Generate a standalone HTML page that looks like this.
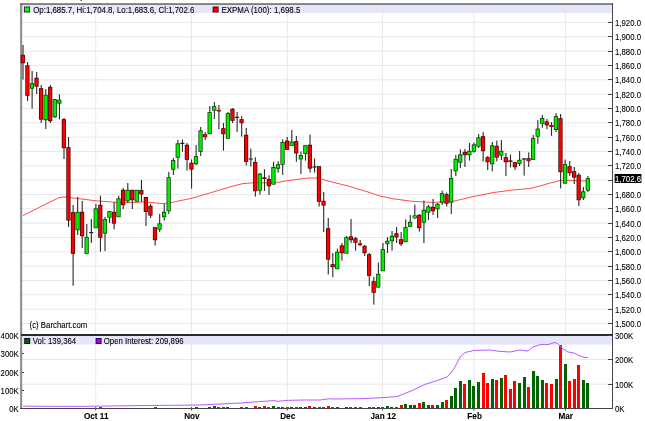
<!DOCTYPE html><html><head><meta charset="utf-8"><title>Chart</title><style>
html,body{margin:0;padding:0;background:#fff}svg{display:block}text{font-family:"Liberation Sans",Arial,sans-serif;font-size:9.5px;fill:#000;stroke:#000;stroke-width:0.1px}.b{font-weight:bold;font-size:9.5px;fill:#000}
</style></head><body>
<svg width="645" height="421" viewBox="0 0 645 421">
<rect width="645" height="421" fill="#fff"/>
<rect x="22" y="5" width="590" height="8" fill="#e6e6fa"/>
<rect x="22" y="336" width="590" height="8.6" fill="#e6e6fa"/>
<g stroke="#e8e8e8" stroke-width="1">
<line x1="22" x2="612" y1="323.5" y2="323.5"/>
<line x1="22" x2="612" y1="309.2" y2="309.2"/>
<line x1="22" x2="612" y1="294.8" y2="294.8"/>
<line x1="22" x2="612" y1="280.5" y2="280.5"/>
<line x1="22" x2="612" y1="266.1" y2="266.1"/>
<line x1="22" x2="612" y1="251.8" y2="251.8"/>
<line x1="22" x2="612" y1="237.5" y2="237.5"/>
<line x1="22" x2="612" y1="223.1" y2="223.1"/>
<line x1="22" x2="612" y1="208.8" y2="208.8"/>
<line x1="22" x2="612" y1="194.5" y2="194.5"/>
<line x1="22" x2="612" y1="180.1" y2="180.1"/>
<line x1="22" x2="612" y1="165.8" y2="165.8"/>
<line x1="22" x2="612" y1="151.5" y2="151.5"/>
<line x1="22" x2="612" y1="137.1" y2="137.1"/>
<line x1="22" x2="612" y1="122.8" y2="122.8"/>
<line x1="22" x2="612" y1="108.5" y2="108.5"/>
<line x1="22" x2="612" y1="94.1" y2="94.1"/>
<line x1="22" x2="612" y1="79.8" y2="79.8"/>
<line x1="22" x2="612" y1="65.5" y2="65.5"/>
<line x1="22" x2="612" y1="51.1" y2="51.1"/>
<line x1="22" x2="612" y1="36.8" y2="36.8"/>
<line x1="22" x2="612" y1="22.4" y2="22.4"/>
<line x1="22" x2="612" y1="359.4" y2="359.4"/>
<line x1="22" x2="612" y1="384.2" y2="384.2"/>
<line x1="95.7" x2="95.7" y1="5" y2="408"/>
<line x1="191.5" x2="191.5" y1="5" y2="408"/>
<line x1="287.3" x2="287.3" y1="5" y2="408"/>
<line x1="382.6" x2="382.6" y1="5" y2="408"/>
<line x1="474" x2="474" y1="5" y2="408"/>
<line x1="565.4" x2="565.4" y1="5" y2="408"/>
</g>
<rect x="20.1" y="3.3" width="2.1" height="405.7" fill="#8e8e8e"/>
<g shape-rendering="crispEdges">
<rect x="98.9" y="407.1" width="3" height="0.9" fill="#ff0000"/>
<rect x="153.5" y="407.1" width="3" height="0.9" fill="#ff0000"/>
<rect x="194.5" y="407.0" width="3" height="1.0" fill="#006400"/>
<rect x="208.2" y="407.0" width="3" height="1.0" fill="#006400"/>
<rect x="212.8" y="406.3" width="3" height="1.7" fill="#006400"/>
<rect x="217.3" y="407.0" width="3" height="1.0" fill="#ff0000"/>
<rect x="221.9" y="407.0" width="3" height="1.0" fill="#ff0000"/>
<rect x="226.4" y="407.0" width="3" height="1.0" fill="#006400"/>
<rect x="240.1" y="407.0" width="3" height="1.0" fill="#ff0000"/>
<rect x="244.6" y="407.0" width="3" height="1.0" fill="#ff0000"/>
<rect x="253.8" y="406.3" width="3" height="1.7" fill="#ff0000"/>
<rect x="258.3" y="407.0" width="3" height="1.0" fill="#006400"/>
<rect x="262.9" y="406.3" width="3" height="1.7" fill="#ff0000"/>
<rect x="267.4" y="407.0" width="3" height="1.0" fill="#ff0000"/>
<rect x="272.0" y="406.3" width="3" height="1.7" fill="#006400"/>
<rect x="276.5" y="407.0" width="3" height="1.0" fill="#006400"/>
<rect x="281.1" y="407.0" width="3" height="1.0" fill="#006400"/>
<rect x="285.6" y="407.0" width="3" height="1.0" fill="#ff0000"/>
<rect x="290.2" y="407.0" width="3" height="1.0" fill="#006400"/>
<rect x="294.8" y="407.0" width="3" height="1.0" fill="#ff0000"/>
<rect x="299.3" y="407.0" width="3" height="1.0" fill="#006400"/>
<rect x="303.9" y="407.0" width="3" height="1.0" fill="#006400"/>
<rect x="308.4" y="406.3" width="3" height="1.7" fill="#ff0000"/>
<rect x="313.0" y="407.0" width="3" height="1.0" fill="#006400"/>
<rect x="317.5" y="407.0" width="3" height="1.0" fill="#ff0000"/>
<rect x="322.1" y="407.0" width="3" height="1.0" fill="#ff0000"/>
<rect x="326.7" y="405.6" width="3" height="2.4" fill="#ff0000"/>
<rect x="331.2" y="406.6" width="3" height="1.4" fill="#ff0000"/>
<rect x="335.8" y="407.0" width="3" height="1.0" fill="#006400"/>
<rect x="344.9" y="407.0" width="3" height="1.0" fill="#006400"/>
<rect x="349.4" y="407.0" width="3" height="1.0" fill="#ff0000"/>
<rect x="354.0" y="407.0" width="3" height="1.0" fill="#ff0000"/>
<rect x="358.5" y="407.0" width="3" height="1.0" fill="#ff0000"/>
<rect x="367.7" y="407.0" width="3" height="1.0" fill="#ff0000"/>
<rect x="372.2" y="407.0" width="3" height="1.0" fill="#ff0000"/>
<rect x="376.8" y="407.0" width="3" height="1.0" fill="#006400"/>
<rect x="381.3" y="406.6" width="3" height="1.4" fill="#006400"/>
<rect x="385.9" y="405.8" width="3" height="2.2" fill="#006400"/>
<rect x="390.4" y="406.6" width="3" height="1.4" fill="#006400"/>
<rect x="395.0" y="406.6" width="3" height="1.4" fill="#ff0000"/>
<rect x="399.5" y="404.6" width="3" height="3.4" fill="#ff0000"/>
<rect x="404.1" y="403.6" width="3" height="4.4" fill="#006400"/>
<rect x="408.7" y="405.2" width="3" height="2.8" fill="#006400"/>
<rect x="413.2" y="404.6" width="3" height="3.4" fill="#006400"/>
<rect x="417.8" y="403.0" width="3" height="5.0" fill="#ff0000"/>
<rect x="422.3" y="401.6" width="3" height="6.4" fill="#006400"/>
<rect x="426.9" y="404.6" width="3" height="3.4" fill="#006400"/>
<rect x="431.4" y="404.6" width="3" height="3.4" fill="#ff0000"/>
<rect x="436.0" y="405.2" width="3" height="2.8" fill="#006400"/>
<rect x="440.6" y="402.2" width="3" height="5.8" fill="#006400"/>
<rect x="445.1" y="400.0" width="3" height="8.0" fill="#ff0000"/>
<rect x="449.7" y="395.6" width="3" height="12.4" fill="#006400"/>
<rect x="454.2" y="387.6" width="3" height="20.4" fill="#006400"/>
<rect x="458.8" y="381.0" width="3" height="27.0" fill="#006400"/>
<rect x="463.3" y="383.6" width="3" height="24.4" fill="#ff0000"/>
<rect x="467.9" y="379.6" width="3" height="28.4" fill="#006400"/>
<rect x="472.4" y="385.6" width="3" height="22.4" fill="#006400"/>
<rect x="477.0" y="381.6" width="3" height="26.4" fill="#006400"/>
<rect x="481.6" y="372.6" width="3" height="35.4" fill="#ff0000"/>
<rect x="486.1" y="383.0" width="3" height="25.0" fill="#ff0000"/>
<rect x="490.7" y="378.6" width="3" height="29.4" fill="#006400"/>
<rect x="495.2" y="380.0" width="3" height="28.0" fill="#ff0000"/>
<rect x="499.8" y="378.0" width="3" height="30.0" fill="#006400"/>
<rect x="504.3" y="375.0" width="3" height="33.0" fill="#ff0000"/>
<rect x="508.9" y="389.0" width="3" height="19.0" fill="#ff0000"/>
<rect x="513.4" y="380.6" width="3" height="27.4" fill="#ff0000"/>
<rect x="518.0" y="382.6" width="3" height="25.4" fill="#006400"/>
<rect x="522.6" y="377.2" width="3" height="30.8" fill="#006400"/>
<rect x="527.1" y="386.6" width="3" height="21.4" fill="#ff0000"/>
<rect x="531.7" y="370.6" width="3" height="37.4" fill="#006400"/>
<rect x="536.2" y="375.6" width="3" height="32.4" fill="#006400"/>
<rect x="540.8" y="380.2" width="3" height="27.8" fill="#006400"/>
<rect x="545.3" y="382.6" width="3" height="25.4" fill="#ff0000"/>
<rect x="549.9" y="384.0" width="3" height="24.0" fill="#ff0000"/>
<rect x="554.5" y="378.6" width="3" height="29.4" fill="#006400"/>
<rect x="559.0" y="344.8" width="3" height="63.2" fill="#ff0000"/>
<rect x="563.6" y="364.0" width="3" height="44.0" fill="#006400"/>
<rect x="568.1" y="381.0" width="3" height="27.0" fill="#ff0000"/>
<rect x="572.7" y="378.8" width="3" height="29.2" fill="#ff0000"/>
<rect x="577.2" y="364.6" width="3" height="43.4" fill="#ff0000"/>
<rect x="581.8" y="380.1" width="3" height="27.9" fill="#006400"/>
<rect x="586.3" y="382.6" width="3" height="25.4" fill="#006400"/>
</g>
<polyline fill="none" stroke="#b55cff" stroke-width="1" points="23.3,406.2 80,406.4 140,405.6 200,405 220,404 240,403 260,401.6 274,400.6 278,401.4 286,400.4 304,400 320,400 329,398.8 335,399 365,398.6 383,397.6 397,396.6 411,391 425,384.4 437,380.6 447,377 450,374 455,367 460,357 465,352.6 474,350.4 490,350 500,351.4 510,352 520,350 528,351 532,347.4 540,344.6 548,344.6 555,342.4 558,344 562,348 568,352 574,353 579,355.4 584,357.3 588,357.5"/>
<polyline fill="none" stroke="#ff4d4d" stroke-width="1" points="23,215.6 30,212 38,208 48,203 58,198 61,197.2 66,197 78,198.6 98,201 118,202.4 138,202.4 143,201.8 163,203.6 171,202.6 193,198 213,192 233,186 243,183.6 255,182.6 268,183 274,183 288,180.6 308,178 318,178 328,181 348,186 368,192 380,196 393,198.8 413,201.4 433,202.4 453,201.4 473,196.6 493,192.6 513,190 520,189.4 530,188.4 540,186 550,183 560,180.6 570,180.4 587,181"/>
<g>
<rect x="22.45" y="45.0" width="1.1" height="34.6" fill="#2a2a2a"/>
<rect x="20.75" y="54.8" width="4.2" height="8.4" fill="#4a0000"/>
<rect x="21.50" y="55.5" width="2.7" height="6.9" fill="#ff0000"/>
<rect x="27.01" y="62.0" width="1.1" height="39.0" fill="#2a2a2a"/>
<rect x="25.31" y="65.4" width="4.2" height="30.4" fill="#4a0000"/>
<rect x="26.06" y="66.1" width="2.7" height="28.9" fill="#ff0000"/>
<rect x="31.56" y="71.0" width="1.1" height="37.6" fill="#2a2a2a"/>
<rect x="29.86" y="83.2" width="4.2" height="5.4" fill="#003c00"/>
<rect x="30.61" y="84.0" width="2.7" height="3.9" fill="#00f000"/>
<rect x="36.12" y="72.0" width="1.1" height="22.0" fill="#2a2a2a"/>
<rect x="34.42" y="77.8" width="4.2" height="8.8" fill="#4a0000"/>
<rect x="35.17" y="78.5" width="2.7" height="7.3" fill="#ff0000"/>
<rect x="40.67" y="85.0" width="1.1" height="38.0" fill="#2a2a2a"/>
<rect x="38.97" y="88.2" width="4.2" height="31.4" fill="#4a0000"/>
<rect x="39.72" y="89.0" width="2.7" height="29.9" fill="#ff0000"/>
<rect x="45.23" y="89.0" width="1.1" height="40.0" fill="#2a2a2a"/>
<rect x="43.53" y="94.8" width="4.2" height="25.4" fill="#003c00"/>
<rect x="44.28" y="95.5" width="2.7" height="23.9" fill="#00f000"/>
<rect x="49.79" y="85.0" width="1.1" height="38.0" fill="#2a2a2a"/>
<rect x="48.09" y="86.8" width="4.2" height="34.4" fill="#4a0000"/>
<rect x="48.84" y="87.5" width="2.7" height="32.9" fill="#ff0000"/>
<rect x="54.34" y="99.0" width="1.1" height="19.0" fill="#2a2a2a"/>
<rect x="52.64" y="99.2" width="4.2" height="18.0" fill="#003c00"/>
<rect x="53.39" y="100.0" width="2.7" height="16.5" fill="#00f000"/>
<rect x="58.90" y="94.4" width="1.1" height="25.0" fill="#2a2a2a"/>
<rect x="57.20" y="99.8" width="4.2" height="3.8" fill="#003c00"/>
<rect x="57.95" y="100.5" width="2.7" height="2.3" fill="#00f000"/>
<rect x="63.45" y="118.0" width="1.1" height="41.0" fill="#2a2a2a"/>
<rect x="61.75" y="119.2" width="4.2" height="29.0" fill="#4a0000"/>
<rect x="62.50" y="120.0" width="2.7" height="27.5" fill="#ff0000"/>
<rect x="68.01" y="137.0" width="1.1" height="90.0" fill="#2a2a2a"/>
<rect x="66.31" y="147.2" width="4.2" height="73.4" fill="#4a0000"/>
<rect x="67.06" y="148.0" width="2.7" height="71.9" fill="#ff0000"/>
<rect x="72.57" y="205.0" width="1.1" height="80.6" fill="#2a2a2a"/>
<rect x="70.87" y="212.2" width="4.2" height="41.6" fill="#4a0000"/>
<rect x="71.62" y="213.0" width="2.7" height="40.1" fill="#ff0000"/>
<rect x="77.12" y="197.0" width="1.1" height="38.0" fill="#2a2a2a"/>
<rect x="75.42" y="211.8" width="4.2" height="18.4" fill="#003c00"/>
<rect x="76.17" y="212.6" width="2.7" height="16.9" fill="#00f000"/>
<rect x="81.68" y="201.0" width="1.1" height="47.0" fill="#2a2a2a"/>
<rect x="79.98" y="211.8" width="4.2" height="24.4" fill="#4a0000"/>
<rect x="80.73" y="212.6" width="2.7" height="22.9" fill="#ff0000"/>
<rect x="86.23" y="224.0" width="1.1" height="29.6" fill="#2a2a2a"/>
<rect x="84.53" y="236.8" width="4.2" height="17.0" fill="#003c00"/>
<rect x="85.28" y="237.6" width="2.7" height="15.5" fill="#00f000"/>
<rect x="90.79" y="219.0" width="1.1" height="24.0" fill="#2a2a2a"/>
<rect x="89.09" y="232.0" width="4.2" height="1.2" fill="#1a2a1a"/>
<rect x="95.35" y="204.0" width="1.1" height="24.0" fill="#2a2a2a"/>
<rect x="93.65" y="208.4" width="4.2" height="19.8" fill="#003c00"/>
<rect x="94.40" y="209.2" width="2.7" height="18.3" fill="#00f000"/>
<rect x="99.90" y="195.6" width="1.1" height="56.0" fill="#2a2a2a"/>
<rect x="98.20" y="204.8" width="4.2" height="33.0" fill="#4a0000"/>
<rect x="98.95" y="205.6" width="2.7" height="31.5" fill="#ff0000"/>
<rect x="104.46" y="217.0" width="1.1" height="34.0" fill="#2a2a2a"/>
<rect x="102.76" y="219.2" width="4.2" height="14.4" fill="#003c00"/>
<rect x="103.51" y="220.0" width="2.7" height="12.9" fill="#00f000"/>
<rect x="109.01" y="211.4" width="1.1" height="11.6" fill="#2a2a2a"/>
<rect x="107.31" y="211.2" width="4.2" height="6.4" fill="#003c00"/>
<rect x="108.06" y="212.0" width="2.7" height="4.9" fill="#00f000"/>
<rect x="113.57" y="202.0" width="1.1" height="27.4" fill="#2a2a2a"/>
<rect x="111.87" y="211.8" width="4.2" height="11.8" fill="#4a0000"/>
<rect x="112.62" y="212.6" width="2.7" height="10.3" fill="#ff0000"/>
<rect x="118.13" y="195.7" width="1.1" height="21.3" fill="#2a2a2a"/>
<rect x="116.43" y="198.4" width="4.2" height="18.8" fill="#003c00"/>
<rect x="117.18" y="199.2" width="2.7" height="17.3" fill="#00f000"/>
<rect x="122.68" y="188.0" width="1.1" height="21.0" fill="#2a2a2a"/>
<rect x="120.98" y="189.8" width="4.2" height="15.4" fill="#4a0000"/>
<rect x="121.73" y="190.6" width="2.7" height="13.9" fill="#ff0000"/>
<rect x="127.24" y="183.0" width="1.1" height="20.0" fill="#2a2a2a"/>
<rect x="125.54" y="189.8" width="4.2" height="11.4" fill="#003c00"/>
<rect x="126.29" y="190.6" width="2.7" height="9.9" fill="#00f000"/>
<rect x="131.79" y="190.0" width="1.1" height="19.0" fill="#2a2a2a"/>
<rect x="130.09" y="189.8" width="4.2" height="10.4" fill="#4a0000"/>
<rect x="130.84" y="190.6" width="2.7" height="8.9" fill="#ff0000"/>
<rect x="136.35" y="190.0" width="1.1" height="11.4" fill="#2a2a2a"/>
<rect x="134.65" y="189.8" width="4.2" height="11.8" fill="#003c00"/>
<rect x="135.40" y="190.6" width="2.7" height="10.3" fill="#00f000"/>
<rect x="140.91" y="180.0" width="1.1" height="21.7" fill="#2a2a2a"/>
<rect x="139.21" y="190.1" width="4.2" height="4.3" fill="#4a0000"/>
<rect x="139.96" y="190.9" width="2.7" height="2.8" fill="#ff0000"/>
<rect x="145.46" y="197.2" width="1.1" height="28.8" fill="#2a2a2a"/>
<rect x="143.76" y="197.0" width="4.2" height="15.0" fill="#4a0000"/>
<rect x="144.51" y="197.8" width="2.7" height="13.5" fill="#ff0000"/>
<rect x="150.02" y="204.0" width="1.1" height="14.0" fill="#2a2a2a"/>
<rect x="148.32" y="205.8" width="4.2" height="9.8" fill="#4a0000"/>
<rect x="149.07" y="206.6" width="2.7" height="8.3" fill="#ff0000"/>
<rect x="154.57" y="227.4" width="1.1" height="18.2" fill="#2a2a2a"/>
<rect x="152.87" y="227.2" width="4.2" height="13.0" fill="#4a0000"/>
<rect x="153.62" y="228.0" width="2.7" height="11.5" fill="#ff0000"/>
<rect x="159.13" y="214.0" width="1.1" height="18.0" fill="#2a2a2a"/>
<rect x="157.43" y="223.4" width="4.2" height="6.2" fill="#003c00"/>
<rect x="158.18" y="224.2" width="2.7" height="4.7" fill="#00f000"/>
<rect x="163.69" y="204.0" width="1.1" height="16.6" fill="#2a2a2a"/>
<rect x="161.99" y="211.8" width="4.2" height="5.4" fill="#003c00"/>
<rect x="162.74" y="212.6" width="2.7" height="3.9" fill="#00f000"/>
<rect x="168.24" y="172.0" width="1.1" height="42.0" fill="#2a2a2a"/>
<rect x="166.54" y="177.2" width="4.2" height="34.0" fill="#003c00"/>
<rect x="167.29" y="178.0" width="2.7" height="32.5" fill="#00f000"/>
<rect x="172.80" y="158.0" width="1.1" height="17.0" fill="#2a2a2a"/>
<rect x="171.10" y="160.2" width="4.2" height="9.4" fill="#003c00"/>
<rect x="171.85" y="161.0" width="2.7" height="7.9" fill="#00f000"/>
<rect x="177.35" y="140.0" width="1.1" height="28.6" fill="#2a2a2a"/>
<rect x="175.65" y="143.4" width="4.2" height="14.2" fill="#003c00"/>
<rect x="176.40" y="144.2" width="2.7" height="12.7" fill="#00f000"/>
<rect x="181.91" y="139.4" width="1.1" height="12.2" fill="#2a2a2a"/>
<rect x="180.21" y="142.8" width="4.2" height="1.2" fill="#1a2a1a"/>
<rect x="186.47" y="143.0" width="1.1" height="27.6" fill="#2a2a2a"/>
<rect x="184.77" y="144.8" width="4.2" height="15.0" fill="#4a0000"/>
<rect x="185.52" y="145.6" width="2.7" height="13.5" fill="#ff0000"/>
<rect x="191.02" y="159.4" width="1.1" height="29.2" fill="#2a2a2a"/>
<rect x="189.32" y="162.8" width="4.2" height="6.8" fill="#4a0000"/>
<rect x="190.07" y="163.6" width="2.7" height="5.3" fill="#ff0000"/>
<rect x="195.58" y="145.0" width="1.1" height="20.0" fill="#2a2a2a"/>
<rect x="193.88" y="156.2" width="4.2" height="8.0" fill="#003c00"/>
<rect x="194.63" y="157.0" width="2.7" height="6.5" fill="#00f000"/>
<rect x="200.13" y="127.0" width="1.1" height="29.0" fill="#2a2a2a"/>
<rect x="198.43" y="130.4" width="4.2" height="21.4" fill="#003c00"/>
<rect x="199.18" y="131.2" width="2.7" height="19.9" fill="#00f000"/>
<rect x="204.69" y="132.0" width="1.1" height="8.0" fill="#2a2a2a"/>
<rect x="202.99" y="134.2" width="4.2" height="3.0" fill="#4a0000"/>
<rect x="203.74" y="134.6" width="2.7" height="2.3" fill="#ff0000"/>
<rect x="209.25" y="106.0" width="1.1" height="28.0" fill="#2a2a2a"/>
<rect x="207.55" y="112.2" width="4.2" height="22.0" fill="#003c00"/>
<rect x="208.30" y="113.0" width="2.7" height="20.5" fill="#00f000"/>
<rect x="213.80" y="102.0" width="1.1" height="17.0" fill="#2a2a2a"/>
<rect x="212.10" y="106.2" width="4.2" height="4.4" fill="#003c00"/>
<rect x="212.85" y="107.0" width="2.7" height="2.9" fill="#00f000"/>
<rect x="218.36" y="105.0" width="1.1" height="24.4" fill="#2a2a2a"/>
<rect x="216.66" y="109.8" width="4.2" height="1.6" fill="#4a0000"/>
<rect x="217.41" y="110.1" width="2.7" height="0.9" fill="#ff0000"/>
<rect x="222.91" y="123.0" width="1.1" height="27.6" fill="#2a2a2a"/>
<rect x="221.21" y="128.2" width="4.2" height="6.0" fill="#4a0000"/>
<rect x="221.96" y="129.0" width="2.7" height="4.5" fill="#ff0000"/>
<rect x="227.47" y="112.0" width="1.1" height="26.4" fill="#2a2a2a"/>
<rect x="225.77" y="113.2" width="4.2" height="25.4" fill="#003c00"/>
<rect x="226.52" y="114.0" width="2.7" height="23.9" fill="#00f000"/>
<rect x="232.03" y="108.0" width="1.1" height="15.0" fill="#2a2a2a"/>
<rect x="230.33" y="108.8" width="4.2" height="12.0" fill="#4a0000"/>
<rect x="231.08" y="109.5" width="2.7" height="10.5" fill="#ff0000"/>
<rect x="236.58" y="112.0" width="1.1" height="20.0" fill="#2a2a2a"/>
<rect x="234.88" y="116.8" width="4.2" height="1.2" fill="#1a2a1a"/>
<rect x="241.14" y="116.0" width="1.1" height="20.6" fill="#2a2a2a"/>
<rect x="239.44" y="119.2" width="4.2" height="4.0" fill="#4a0000"/>
<rect x="240.19" y="120.0" width="2.7" height="2.5" fill="#ff0000"/>
<rect x="245.69" y="128.0" width="1.1" height="37.6" fill="#2a2a2a"/>
<rect x="243.99" y="134.8" width="4.2" height="27.0" fill="#4a0000"/>
<rect x="244.74" y="135.6" width="2.7" height="25.5" fill="#ff0000"/>
<rect x="250.25" y="148.6" width="1.1" height="18.0" fill="#2a2a2a"/>
<rect x="248.55" y="158.4" width="4.2" height="1.2" fill="#1a2a1a"/>
<rect x="254.81" y="157.3" width="1.1" height="39.3" fill="#2a2a2a"/>
<rect x="253.11" y="162.0" width="4.2" height="29.2" fill="#4a0000"/>
<rect x="253.86" y="162.8" width="2.7" height="27.7" fill="#ff0000"/>
<rect x="259.36" y="173.0" width="1.1" height="21.6" fill="#2a2a2a"/>
<rect x="257.66" y="173.6" width="4.2" height="17.0" fill="#003c00"/>
<rect x="258.41" y="174.4" width="2.7" height="15.5" fill="#00f000"/>
<rect x="263.92" y="169.2" width="1.1" height="21.8" fill="#2a2a2a"/>
<rect x="262.22" y="177.3" width="4.2" height="1.7" fill="#4a0000"/>
<rect x="262.97" y="177.7" width="2.7" height="1.0" fill="#ff0000"/>
<rect x="268.47" y="175.3" width="1.1" height="19.7" fill="#2a2a2a"/>
<rect x="266.77" y="179.1" width="4.2" height="7.1" fill="#4a0000"/>
<rect x="267.52" y="179.9" width="2.7" height="5.6" fill="#ff0000"/>
<rect x="273.03" y="161.7" width="1.1" height="22.7" fill="#2a2a2a"/>
<rect x="271.33" y="167.0" width="4.2" height="17.6" fill="#003c00"/>
<rect x="272.08" y="167.8" width="2.7" height="16.1" fill="#00f000"/>
<rect x="277.59" y="161.2" width="1.1" height="11.6" fill="#2a2a2a"/>
<rect x="275.89" y="164.3" width="4.2" height="4.4" fill="#003c00"/>
<rect x="276.64" y="165.1" width="2.7" height="2.9" fill="#00f000"/>
<rect x="282.14" y="139.4" width="1.1" height="35.4" fill="#2a2a2a"/>
<rect x="280.44" y="142.0" width="4.2" height="22.7" fill="#003c00"/>
<rect x="281.19" y="142.8" width="2.7" height="21.2" fill="#00f000"/>
<rect x="286.70" y="137.0" width="1.1" height="12.6" fill="#2a2a2a"/>
<rect x="285.00" y="140.6" width="4.2" height="9.2" fill="#4a0000"/>
<rect x="285.75" y="141.4" width="2.7" height="7.7" fill="#ff0000"/>
<rect x="291.25" y="130.0" width="1.1" height="15.6" fill="#2a2a2a"/>
<rect x="289.55" y="141.6" width="4.2" height="4.2" fill="#003c00"/>
<rect x="290.30" y="142.4" width="2.7" height="2.7" fill="#00f000"/>
<rect x="295.81" y="136.0" width="1.1" height="25.8" fill="#2a2a2a"/>
<rect x="294.11" y="141.1" width="4.2" height="12.3" fill="#4a0000"/>
<rect x="294.86" y="141.9" width="2.7" height="10.8" fill="#ff0000"/>
<rect x="300.37" y="151.6" width="1.1" height="22.4" fill="#2a2a2a"/>
<rect x="298.67" y="155.1" width="4.2" height="4.3" fill="#003c00"/>
<rect x="299.42" y="155.9" width="2.7" height="2.8" fill="#00f000"/>
<rect x="304.92" y="145.0" width="1.1" height="15.6" fill="#2a2a2a"/>
<rect x="303.22" y="145.3" width="4.2" height="8.5" fill="#003c00"/>
<rect x="303.97" y="146.1" width="2.7" height="7.0" fill="#00f000"/>
<rect x="309.48" y="134.6" width="1.1" height="38.0" fill="#2a2a2a"/>
<rect x="307.78" y="144.8" width="4.2" height="23.8" fill="#4a0000"/>
<rect x="308.53" y="145.6" width="2.7" height="22.3" fill="#ff0000"/>
<rect x="314.03" y="158.6" width="1.1" height="14.0" fill="#2a2a2a"/>
<rect x="312.33" y="166.4" width="4.2" height="1.2" fill="#1a2a1a"/>
<rect x="318.59" y="166.4" width="1.1" height="40.2" fill="#2a2a2a"/>
<rect x="316.89" y="166.2" width="4.2" height="35.6" fill="#4a0000"/>
<rect x="317.64" y="167.0" width="2.7" height="34.1" fill="#ff0000"/>
<rect x="323.15" y="192.0" width="1.1" height="40.0" fill="#2a2a2a"/>
<rect x="321.45" y="200.8" width="4.2" height="4.8" fill="#4a0000"/>
<rect x="322.20" y="201.6" width="2.7" height="3.3" fill="#ff0000"/>
<rect x="327.70" y="218.0" width="1.1" height="56.4" fill="#2a2a2a"/>
<rect x="326.00" y="228.2" width="4.2" height="31.4" fill="#4a0000"/>
<rect x="326.75" y="229.0" width="2.7" height="29.9" fill="#ff0000"/>
<rect x="332.26" y="253.0" width="1.1" height="24.2" fill="#2a2a2a"/>
<rect x="330.56" y="264.2" width="4.2" height="3.0" fill="#4a0000"/>
<rect x="331.31" y="264.9" width="2.7" height="1.5" fill="#ff0000"/>
<rect x="336.81" y="248.6" width="1.1" height="20.4" fill="#2a2a2a"/>
<rect x="335.11" y="251.8" width="4.2" height="17.4" fill="#003c00"/>
<rect x="335.86" y="252.6" width="2.7" height="15.9" fill="#00f000"/>
<rect x="341.37" y="243.0" width="1.1" height="17.6" fill="#2a2a2a"/>
<rect x="339.67" y="245.4" width="4.2" height="7.8" fill="#4a0000"/>
<rect x="340.42" y="246.2" width="2.7" height="6.3" fill="#ff0000"/>
<rect x="345.93" y="236.0" width="1.1" height="17.4" fill="#2a2a2a"/>
<rect x="344.23" y="237.2" width="4.2" height="16.4" fill="#003c00"/>
<rect x="344.98" y="238.0" width="2.7" height="14.9" fill="#00f000"/>
<rect x="350.48" y="219.0" width="1.1" height="24.0" fill="#2a2a2a"/>
<rect x="348.78" y="236.4" width="4.2" height="3.8" fill="#4a0000"/>
<rect x="349.53" y="237.2" width="2.7" height="2.3" fill="#ff0000"/>
<rect x="355.04" y="237.0" width="1.1" height="13.6" fill="#2a2a2a"/>
<rect x="353.34" y="238.2" width="4.2" height="4.6" fill="#4a0000"/>
<rect x="354.09" y="239.0" width="2.7" height="3.1" fill="#ff0000"/>
<rect x="359.59" y="240.0" width="1.1" height="6.0" fill="#2a2a2a"/>
<rect x="357.89" y="243.4" width="4.2" height="1.8" fill="#4a0000"/>
<rect x="358.64" y="243.8" width="2.7" height="1.1" fill="#ff0000"/>
<rect x="364.15" y="245.0" width="1.1" height="11.0" fill="#2a2a2a"/>
<rect x="362.45" y="245.8" width="4.2" height="7.4" fill="#4a0000"/>
<rect x="363.20" y="246.6" width="2.7" height="5.9" fill="#ff0000"/>
<rect x="368.71" y="253.0" width="1.1" height="33.0" fill="#2a2a2a"/>
<rect x="367.01" y="254.2" width="4.2" height="21.6" fill="#4a0000"/>
<rect x="367.76" y="255.0" width="2.7" height="20.1" fill="#ff0000"/>
<rect x="373.26" y="277.0" width="1.1" height="27.6" fill="#2a2a2a"/>
<rect x="371.56" y="281.2" width="4.2" height="11.6" fill="#4a0000"/>
<rect x="372.31" y="281.9" width="2.7" height="10.1" fill="#ff0000"/>
<rect x="377.82" y="262.6" width="1.1" height="24.8" fill="#2a2a2a"/>
<rect x="376.12" y="273.8" width="4.2" height="13.8" fill="#003c00"/>
<rect x="376.87" y="274.6" width="2.7" height="12.3" fill="#00f000"/>
<rect x="382.37" y="243.0" width="1.1" height="28.0" fill="#2a2a2a"/>
<rect x="380.67" y="249.2" width="4.2" height="22.0" fill="#003c00"/>
<rect x="381.42" y="250.0" width="2.7" height="20.5" fill="#00f000"/>
<rect x="386.93" y="237.0" width="1.1" height="16.0" fill="#2a2a2a"/>
<rect x="385.23" y="240.8" width="4.2" height="3.4" fill="#003c00"/>
<rect x="385.98" y="241.6" width="2.7" height="1.9" fill="#00f000"/>
<rect x="391.49" y="231.0" width="1.1" height="19.6" fill="#2a2a2a"/>
<rect x="389.79" y="235.8" width="4.2" height="5.4" fill="#003c00"/>
<rect x="390.54" y="236.6" width="2.7" height="3.9" fill="#00f000"/>
<rect x="396.04" y="227.0" width="1.1" height="16.0" fill="#2a2a2a"/>
<rect x="394.34" y="233.2" width="4.2" height="4.2" fill="#4a0000"/>
<rect x="395.09" y="234.0" width="2.7" height="2.7" fill="#ff0000"/>
<rect x="400.60" y="232.0" width="1.1" height="14.0" fill="#2a2a2a"/>
<rect x="398.90" y="239.2" width="4.2" height="5.0" fill="#4a0000"/>
<rect x="399.65" y="240.0" width="2.7" height="3.5" fill="#ff0000"/>
<rect x="405.15" y="219.4" width="1.1" height="22.6" fill="#2a2a2a"/>
<rect x="403.45" y="227.2" width="4.2" height="15.0" fill="#003c00"/>
<rect x="404.20" y="228.0" width="2.7" height="13.5" fill="#00f000"/>
<rect x="409.71" y="215.0" width="1.1" height="11.6" fill="#2a2a2a"/>
<rect x="408.01" y="221.8" width="4.2" height="5.0" fill="#003c00"/>
<rect x="408.76" y="222.6" width="2.7" height="3.5" fill="#00f000"/>
<rect x="414.27" y="204.6" width="1.1" height="14.4" fill="#2a2a2a"/>
<rect x="412.57" y="215.4" width="4.2" height="2.8" fill="#003c00"/>
<rect x="413.32" y="215.8" width="2.7" height="2.1" fill="#00f000"/>
<rect x="418.82" y="214.0" width="1.1" height="17.6" fill="#2a2a2a"/>
<rect x="417.12" y="214.8" width="4.2" height="13.4" fill="#4a0000"/>
<rect x="417.87" y="215.6" width="2.7" height="11.9" fill="#ff0000"/>
<rect x="423.38" y="200.6" width="1.1" height="42.4" fill="#2a2a2a"/>
<rect x="421.68" y="209.8" width="4.2" height="12.8" fill="#003c00"/>
<rect x="422.43" y="210.6" width="2.7" height="11.3" fill="#00f000"/>
<rect x="427.93" y="205.0" width="1.1" height="15.0" fill="#2a2a2a"/>
<rect x="426.23" y="206.4" width="4.2" height="6.2" fill="#003c00"/>
<rect x="426.98" y="207.2" width="2.7" height="4.7" fill="#00f000"/>
<rect x="432.49" y="199.0" width="1.1" height="16.0" fill="#2a2a2a"/>
<rect x="430.79" y="206.8" width="4.2" height="4.4" fill="#4a0000"/>
<rect x="431.54" y="207.6" width="2.7" height="2.9" fill="#ff0000"/>
<rect x="437.05" y="203.0" width="1.1" height="15.0" fill="#2a2a2a"/>
<rect x="435.35" y="203.8" width="4.2" height="5.4" fill="#003c00"/>
<rect x="436.10" y="204.6" width="2.7" height="3.9" fill="#00f000"/>
<rect x="441.60" y="190.6" width="1.1" height="14.4" fill="#2a2a2a"/>
<rect x="439.90" y="193.2" width="4.2" height="9.4" fill="#003c00"/>
<rect x="440.65" y="194.0" width="2.7" height="7.9" fill="#00f000"/>
<rect x="446.16" y="192.6" width="1.1" height="14.0" fill="#2a2a2a"/>
<rect x="444.46" y="194.2" width="4.2" height="9.6" fill="#4a0000"/>
<rect x="445.21" y="195.0" width="2.7" height="8.1" fill="#ff0000"/>
<rect x="450.71" y="169.0" width="1.1" height="45.0" fill="#2a2a2a"/>
<rect x="449.01" y="178.0" width="4.2" height="24.6" fill="#003c00"/>
<rect x="449.76" y="178.8" width="2.7" height="23.1" fill="#00f000"/>
<rect x="455.27" y="155.0" width="1.1" height="21.0" fill="#2a2a2a"/>
<rect x="453.57" y="158.8" width="4.2" height="12.4" fill="#003c00"/>
<rect x="454.32" y="159.6" width="2.7" height="10.9" fill="#00f000"/>
<rect x="459.83" y="149.4" width="1.1" height="18.6" fill="#2a2a2a"/>
<rect x="458.13" y="154.4" width="4.2" height="8.2" fill="#003c00"/>
<rect x="458.88" y="155.2" width="2.7" height="6.7" fill="#00f000"/>
<rect x="464.38" y="149.0" width="1.1" height="18.0" fill="#2a2a2a"/>
<rect x="462.68" y="151.8" width="4.2" height="3.4" fill="#4a0000"/>
<rect x="463.43" y="152.6" width="2.7" height="1.9" fill="#ff0000"/>
<rect x="468.94" y="143.0" width="1.1" height="17.6" fill="#2a2a2a"/>
<rect x="467.24" y="150.8" width="4.2" height="4.4" fill="#003c00"/>
<rect x="467.99" y="151.6" width="2.7" height="2.9" fill="#00f000"/>
<rect x="473.49" y="142.6" width="1.1" height="10.0" fill="#2a2a2a"/>
<rect x="471.79" y="144.4" width="4.2" height="7.2" fill="#003c00"/>
<rect x="472.54" y="145.2" width="2.7" height="5.7" fill="#00f000"/>
<rect x="478.05" y="134.0" width="1.1" height="14.0" fill="#2a2a2a"/>
<rect x="476.35" y="137.4" width="4.2" height="9.2" fill="#003c00"/>
<rect x="477.10" y="138.2" width="2.7" height="7.7" fill="#00f000"/>
<rect x="482.61" y="132.0" width="1.1" height="29.4" fill="#2a2a2a"/>
<rect x="480.91" y="136.2" width="4.2" height="15.0" fill="#4a0000"/>
<rect x="481.66" y="137.0" width="2.7" height="13.5" fill="#ff0000"/>
<rect x="487.16" y="156.0" width="1.1" height="14.0" fill="#2a2a2a"/>
<rect x="485.46" y="157.2" width="4.2" height="5.0" fill="#4a0000"/>
<rect x="486.21" y="158.0" width="2.7" height="3.5" fill="#ff0000"/>
<rect x="491.72" y="142.0" width="1.1" height="29.4" fill="#2a2a2a"/>
<rect x="490.02" y="145.4" width="4.2" height="18.8" fill="#003c00"/>
<rect x="490.77" y="146.2" width="2.7" height="17.3" fill="#00f000"/>
<rect x="496.27" y="140.6" width="1.1" height="20.8" fill="#2a2a2a"/>
<rect x="494.57" y="145.8" width="4.2" height="11.8" fill="#4a0000"/>
<rect x="495.32" y="146.6" width="2.7" height="10.3" fill="#ff0000"/>
<rect x="500.83" y="140.0" width="1.1" height="20.0" fill="#2a2a2a"/>
<rect x="499.13" y="150.8" width="4.2" height="4.8" fill="#003c00"/>
<rect x="499.88" y="151.6" width="2.7" height="3.3" fill="#00f000"/>
<rect x="505.39" y="153.0" width="1.1" height="23.0" fill="#2a2a2a"/>
<rect x="503.69" y="157.2" width="4.2" height="5.0" fill="#4a0000"/>
<rect x="504.44" y="158.0" width="2.7" height="3.5" fill="#ff0000"/>
<rect x="509.94" y="154.6" width="1.1" height="12.8" fill="#2a2a2a"/>
<rect x="508.24" y="160.4" width="4.2" height="1.6" fill="#4a0000"/>
<rect x="508.99" y="160.8" width="2.7" height="0.9" fill="#ff0000"/>
<rect x="514.50" y="162.0" width="1.1" height="8.0" fill="#2a2a2a"/>
<rect x="512.80" y="162.2" width="4.2" height="5.0" fill="#4a0000"/>
<rect x="513.55" y="163.0" width="2.7" height="3.5" fill="#ff0000"/>
<rect x="519.05" y="151.0" width="1.1" height="15.0" fill="#2a2a2a"/>
<rect x="517.35" y="159.8" width="4.2" height="4.0" fill="#003c00"/>
<rect x="518.10" y="160.6" width="2.7" height="2.5" fill="#00f000"/>
<rect x="523.61" y="158.0" width="1.1" height="17.6" fill="#2a2a2a"/>
<rect x="521.91" y="158.4" width="4.2" height="1.2" fill="#1a2a1a"/>
<rect x="528.17" y="152.4" width="1.1" height="14.6" fill="#2a2a2a"/>
<rect x="526.47" y="158.2" width="4.2" height="3.0" fill="#4a0000"/>
<rect x="527.22" y="158.6" width="2.7" height="2.3" fill="#ff0000"/>
<rect x="532.72" y="135.0" width="1.1" height="24.6" fill="#2a2a2a"/>
<rect x="531.02" y="138.2" width="4.2" height="21.6" fill="#003c00"/>
<rect x="531.77" y="139.0" width="2.7" height="20.1" fill="#00f000"/>
<rect x="537.28" y="120.1" width="1.1" height="23.7" fill="#2a2a2a"/>
<rect x="535.58" y="128.6" width="4.2" height="8.0" fill="#003c00"/>
<rect x="536.33" y="129.4" width="2.7" height="6.5" fill="#00f000"/>
<rect x="541.83" y="115.1" width="1.1" height="12.7" fill="#2a2a2a"/>
<rect x="540.13" y="118.0" width="4.2" height="5.7" fill="#003c00"/>
<rect x="540.88" y="118.8" width="2.7" height="4.2" fill="#00f000"/>
<rect x="546.39" y="119.1" width="1.1" height="10.1" fill="#2a2a2a"/>
<rect x="544.69" y="121.4" width="4.2" height="3.9" fill="#4a0000"/>
<rect x="545.44" y="122.1" width="2.7" height="2.4" fill="#ff0000"/>
<rect x="550.95" y="122.1" width="1.1" height="13.7" fill="#2a2a2a"/>
<rect x="549.25" y="125.0" width="4.2" height="1.9" fill="#4a0000"/>
<rect x="550.00" y="125.3" width="2.7" height="1.2" fill="#ff0000"/>
<rect x="555.50" y="113.1" width="1.1" height="19.0" fill="#2a2a2a"/>
<rect x="553.80" y="116.2" width="4.2" height="13.8" fill="#003c00"/>
<rect x="554.55" y="117.0" width="2.7" height="12.3" fill="#00f000"/>
<rect x="560.06" y="114.0" width="1.1" height="74.4" fill="#2a2a2a"/>
<rect x="558.36" y="118.2" width="4.2" height="54.0" fill="#4a0000"/>
<rect x="559.11" y="119.0" width="2.7" height="52.5" fill="#ff0000"/>
<rect x="564.61" y="159.6" width="1.1" height="23.8" fill="#2a2a2a"/>
<rect x="562.91" y="164.2" width="4.2" height="19.4" fill="#003c00"/>
<rect x="563.66" y="165.0" width="2.7" height="17.9" fill="#00f000"/>
<rect x="569.17" y="161.0" width="1.1" height="15.0" fill="#2a2a2a"/>
<rect x="567.47" y="166.2" width="4.2" height="7.0" fill="#4a0000"/>
<rect x="568.22" y="167.0" width="2.7" height="5.5" fill="#ff0000"/>
<rect x="573.73" y="167.0" width="1.1" height="17.0" fill="#2a2a2a"/>
<rect x="572.03" y="171.2" width="4.2" height="6.4" fill="#4a0000"/>
<rect x="572.78" y="172.0" width="2.7" height="4.9" fill="#ff0000"/>
<rect x="578.28" y="173.0" width="1.1" height="33.0" fill="#2a2a2a"/>
<rect x="576.58" y="174.8" width="4.2" height="25.4" fill="#4a0000"/>
<rect x="577.33" y="175.6" width="2.7" height="23.9" fill="#ff0000"/>
<rect x="582.84" y="187.0" width="1.1" height="13.0" fill="#2a2a2a"/>
<rect x="581.14" y="191.4" width="4.2" height="6.8" fill="#003c00"/>
<rect x="581.89" y="192.2" width="2.7" height="5.3" fill="#00f000"/>
<rect x="587.39" y="176.0" width="1.1" height="16.0" fill="#2a2a2a"/>
<rect x="585.69" y="178.2" width="4.2" height="12.4" fill="#003c00"/>
<rect x="586.44" y="179.0" width="2.7" height="10.9" fill="#00f000"/>
</g>
<g shape-rendering="crispEdges">
<rect x="20" y="3.3" width="593" height="1.5" fill="#606060" shape-rendering="auto"/>
<rect x="612" y="3" width="1" height="406" fill="#444"/>
<rect x="20" y="408" width="593" height="1.2" fill="#444"/>
<rect x="21" y="334" width="592" height="2" fill="#2a2a2a"/>
<rect x="608" y="323.0" width="4" height="1" fill="#444"/>
<rect x="608" y="308.7" width="4" height="1" fill="#444"/>
<rect x="608" y="294.3" width="4" height="1" fill="#444"/>
<rect x="608" y="280.0" width="4" height="1" fill="#444"/>
<rect x="608" y="265.6" width="4" height="1" fill="#444"/>
<rect x="608" y="251.3" width="4" height="1" fill="#444"/>
<rect x="608" y="237.0" width="4" height="1" fill="#444"/>
<rect x="608" y="222.6" width="4" height="1" fill="#444"/>
<rect x="608" y="208.3" width="4" height="1" fill="#444"/>
<rect x="608" y="194.0" width="4" height="1" fill="#444"/>
<rect x="608" y="179.6" width="4" height="1" fill="#444"/>
<rect x="608" y="165.3" width="4" height="1" fill="#444"/>
<rect x="608" y="151.0" width="4" height="1" fill="#444"/>
<rect x="608" y="136.6" width="4" height="1" fill="#444"/>
<rect x="608" y="122.3" width="4" height="1" fill="#444"/>
<rect x="608" y="108.0" width="4" height="1" fill="#444"/>
<rect x="608" y="93.6" width="4" height="1" fill="#444"/>
<rect x="608" y="79.3" width="4" height="1" fill="#444"/>
<rect x="608" y="65.0" width="4" height="1" fill="#444"/>
<rect x="608" y="50.6" width="4" height="1" fill="#444"/>
<rect x="608" y="36.3" width="4" height="1" fill="#444"/>
<rect x="608" y="21.9" width="4" height="1" fill="#444"/>
<rect x="608" y="335.0" width="4" height="1" fill="#444"/>
<rect x="608" y="359.4" width="4" height="1" fill="#444"/>
<rect x="608" y="383.8" width="4" height="1" fill="#444"/>
<rect x="608" y="408.0" width="4" height="1" fill="#444"/>
<rect x="22" y="353.3" width="2.4" height="1" fill="#444"/>
<rect x="22" y="371.6" width="2.4" height="1" fill="#444"/>
<rect x="22" y="389.9" width="2.4" height="1" fill="#444"/>
<rect x="95.2" y="407" width="1" height="3.6" fill="#555" shape-rendering="auto"/>
<rect x="191.0" y="407" width="1" height="3.6" fill="#555" shape-rendering="auto"/>
<rect x="286.8" y="407" width="1" height="3.6" fill="#555" shape-rendering="auto"/>
<rect x="382.1" y="407" width="1" height="3.6" fill="#555" shape-rendering="auto"/>
<rect x="473.5" y="407" width="1" height="3.6" fill="#555" shape-rendering="auto"/>
<rect x="564.9" y="407" width="1" height="3.6" fill="#555" shape-rendering="auto"/>
</g>
<text transform="translate(615.0,327.1) scale(0.821,1)">1,500.0</text>
<text transform="translate(615.0,312.8) scale(0.821,1)">1,520.0</text>
<text transform="translate(615.0,298.4) scale(0.821,1)">1,540.0</text>
<text transform="translate(615.0,284.1) scale(0.821,1)">1,560.0</text>
<text transform="translate(615.0,269.7) scale(0.821,1)">1,580.0</text>
<text transform="translate(615.0,255.4) scale(0.821,1)">1,600.0</text>
<text transform="translate(615.0,241.1) scale(0.821,1)">1,620.0</text>
<text transform="translate(615.0,226.7) scale(0.821,1)">1,640.0</text>
<text transform="translate(615.0,212.4) scale(0.821,1)">1,660.0</text>
<text transform="translate(615.0,198.1) scale(0.821,1)">1,680.0</text>
<text transform="translate(615.0,169.4) scale(0.821,1)">1,720.0</text>
<text transform="translate(615.0,155.1) scale(0.821,1)">1,740.0</text>
<text transform="translate(615.0,140.7) scale(0.821,1)">1,760.0</text>
<text transform="translate(615.0,126.4) scale(0.821,1)">1,780.0</text>
<text transform="translate(615.0,112.1) scale(0.821,1)">1,800.0</text>
<text transform="translate(615.0,97.7) scale(0.821,1)">1,820.0</text>
<text transform="translate(615.0,83.4) scale(0.821,1)">1,840.0</text>
<text transform="translate(615.0,69.1) scale(0.821,1)">1,860.0</text>
<text transform="translate(615.0,54.7) scale(0.821,1)">1,880.0</text>
<text transform="translate(615.0,40.4) scale(0.821,1)">1,900.0</text>
<text transform="translate(615.0,26.1) scale(0.821,1)">1,920.0</text>
<rect x="614.6" y="174" width="26.8" height="9" fill="#000"/>
<text transform="translate(615.0,182.0) scale(0.821,1)" style="fill:#fff;stroke:#fff">1,702.6</text>
<text transform="translate(615.0,339.1) scale(0.821,1)">300K</text>
<text transform="translate(615.0,363.3) scale(0.821,1)">200K</text>
<text transform="translate(615.0,387.7) scale(0.821,1)">100K</text>
<text transform="translate(615.0,412.3) scale(0.821,1)">0K</text>
<text transform="translate(18.8,339.1) scale(0.821,1)" text-anchor="end">400K</text>
<text transform="translate(18.8,357.2) scale(0.821,1)" text-anchor="end">300K</text>
<text transform="translate(18.8,375.5) scale(0.821,1)" text-anchor="end">200K</text>
<text transform="translate(18.8,393.8) scale(0.821,1)" text-anchor="end">100K</text>
<text transform="translate(18.8,412.3) scale(0.821,1)" text-anchor="end">0K</text>
<text transform="translate(96.2,418.8) scale(0.863,1)" text-anchor="middle" class="b">Oct 11</text>
<text transform="translate(191.9,418.8) scale(0.863,1)" text-anchor="middle" class="b">Nov</text>
<text transform="translate(287.7,418.8) scale(0.863,1)" text-anchor="middle" class="b">Dec</text>
<text transform="translate(383.3,418.8) scale(0.863,1)" text-anchor="middle" class="b">Jan 12</text>
<text transform="translate(474.6,418.8) scale(0.863,1)" text-anchor="middle" class="b">Feb</text>
<text transform="translate(565.7,418.8) scale(0.863,1)" text-anchor="middle" class="b">Mar</text>
<rect x="24" y="6.5" width="6" height="6" fill="#333"/><rect x="25" y="7.5" width="4" height="4" fill="#00ff00"/>
<text transform="translate(33.2,12.6) scale(0.831,1)">Op:1,685.7, Hi:1,704.8, Lo:1,683.6, Cl:1,702.6</text>
<rect x="212.6" y="6.5" width="6" height="6" fill="#500"/><rect x="213.6" y="7.5" width="4" height="4" fill="#ee0000"/>
<text transform="translate(221.4,12.6) scale(0.836,1)">EXPMA (100): 1,698.5</text>
<rect x="24.2" y="338" width="6" height="6" fill="#111"/><rect x="25.2" y="339" width="4" height="4" fill="#006400"/>
<text transform="translate(32.8,344.0) scale(0.821,1)">Vol: 139,364</text>
<rect x="95.6" y="338" width="6" height="6" fill="#306"/><rect x="96.6" y="339" width="4" height="4" fill="#a000ff"/>
<text transform="translate(103.8,344.0) scale(0.821,1)">Open Interest: 209,896</text>
<text transform="translate(29.6,327.8) scale(0.821,1)">(c) Barchart.com</text>
<rect x="80.3" y="0" width="1.6" height="0.9" fill="#555"/>
</svg></body></html>
